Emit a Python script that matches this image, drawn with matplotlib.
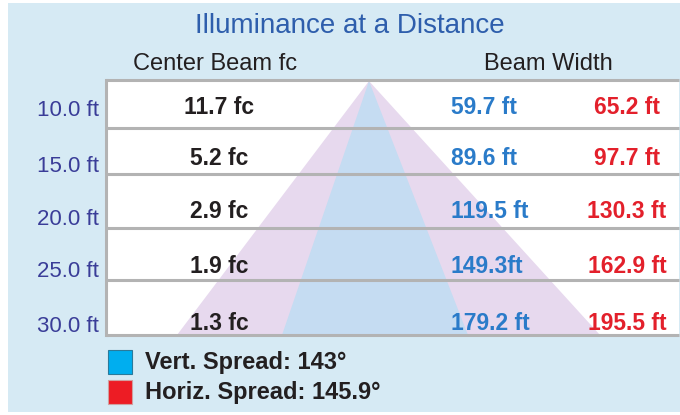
import matplotlib.pyplot as plt
import matplotlib.patches as mpatches

plt.rcParams['font.family'] = ['Liberation Sans', 'DejaVu Sans']

TITLE = "Illuminance at a Distance"
distances = ["10.0 ft", "15.0 ft", "20.0 ft", "25.0 ft", "30.0 ft"]
center_fc = ["11.7 fc", "5.2 fc", "2.9 fc", "1.9 fc", "1.3 fc"]
vert_width = ["59.7 ft", "89.6 ft", "119.5 ft", "149.3ft", "179.2 ft"]
horiz_width = ["65.2 ft", "97.7 ft", "130.3 ft", "162.9 ft", "195.5 ft"]
legend_labels = ["Vert. Spread: 143°", "Horiz. Spread: 145.9°"]

# layout (pixel space, y down)
W, H = 680, 415
row_edges = [80, 128, 174, 228, 280, 335]
label_y = [110, 166, 219, 271, 326]
value_y = [107, 158, 211, 266, 323]

PANEL = "#d6eaf4"
GRID = "#b3b3b3"
PINK = "#e7d9ee"
LBLUE = "#c5dcf2"
TXT = "#231f20"
C_TITLE = "#2e5eac"
C_ROW = "#3a3d98"
C_BLUE = "#2a7bc9"
C_RED = "#e3202b"
SQ_BLUE = "#00aeef"
SQ_RED = "#ed1c24"

fig = plt.figure(figsize=(W / 100, H / 100), dpi=100)
ax = fig.add_axes([0, 0, 1, 1])
ax.set_xlim(0, W)
ax.set_ylim(H, 0)
ax.axis("off")

# background panel
ax.add_patch(mpatches.Rectangle((8, 3), W - 8, 409, facecolor=PANEL, edgecolor="none", zorder=0))
# table area
ax.add_patch(mpatches.Rectangle((106, row_edges[0]), 573, row_edges[-1] - row_edges[0],
                                facecolor="white", edgecolor="none", zorder=1))

# beam cones (schematic)
apex = (369, 81)
ax.add_patch(mpatches.Polygon([apex, (177, 335), (600, 335)], closed=True,
                              facecolor=PINK, edgecolor="none", zorder=2))
ax.add_patch(mpatches.Polygon([apex, (282, 335), (468, 335)], closed=True,
                              facecolor=LBLUE, edgecolor="none", zorder=3))

# grid lines
for y in row_edges:
    ax.plot([106, 679], [y, y], color=GRID, lw=2.2, zorder=4, solid_capstyle="butt")
ax.plot([106, 106], [row_edges[0], row_edges[-1]], color=GRID, lw=2.2, zorder=4)

ax.text(350, 26, TITLE, ha="center", va="center", fontsize=20, color=C_TITLE, zorder=5)
ax.text(215, 64, "Center Beam fc", ha="center", va="center", fontsize=17, color=TXT, zorder=5)
ax.text(548, 64, "Beam Width", ha="center", va="center", fontsize=17, color=TXT, zorder=5)

for i in range(len(distances)):
    ax.text(99, label_y[i], distances[i], ha="right", va="center", fontsize=16, color=C_ROW, zorder=5)
    ax.text(219, value_y[i], center_fc[i], ha="center", va="center", fontsize=16.5,
            fontweight="bold", color=TXT, zorder=5)
    ax.text(451, value_y[i], vert_width[i], ha="left", va="center", fontsize=16.5,
            fontweight="bold", color=C_BLUE, zorder=5)
    ax.text(627, value_y[i], horiz_width[i], ha="center", va="center", fontsize=16.5,
            fontweight="bold", color=C_RED, zorder=5)

# legend
for lab, col, y in zip(legend_labels, [SQ_BLUE, SQ_RED], [362, 392]):
    ax.add_patch(mpatches.Rectangle((108, y - 12), 24, 24, facecolor=col,
                                    edgecolor="#2a7a9a" if col == SQ_BLUE else "#d0a0a0",
                                    lw=0.8, zorder=5))
    ax.text(145, y, lab, ha="left", va="center", fontsize=17, fontweight="bold", color=TXT, zorder=5)

fig.savefig("out.png", dpi=100, facecolor="white")
